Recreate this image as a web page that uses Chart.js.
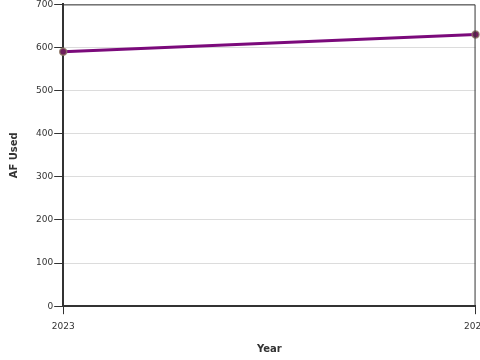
<!DOCTYPE html>
<html>
<head>
<meta charset="utf-8">
<script src="https://cdn.jsdelivr.net/npm/chart.js@4.4.0/dist/chart.umd.min.js"></script>
<style>
  html, body { margin: 0; padding: 0; background: #fff; overflow: hidden; }
  #wrap { width: 494px; height: 362px; margin-top: -2px; }
</style>
</head>
<body>
<div id="wrap"><canvas id="c" width="494" height="362"></canvas></div>
<script>
const years = ['2023', '2024'];
const afUsed = [590, 630];
const yTicks = [0, 100, 200, 300, 400, 500, 600, 700];

Chart.defaults.font.family = '"DejaVu Sans", sans-serif';
Chart.defaults.color = '#333';

// thin frame round the plot area
const frame = {
  id: 'frame',
  afterDraw(chart) {
    const { ctx, chartArea: a } = chart;
    ctx.save();
    ctx.strokeStyle = '#333';
    ctx.lineWidth = 1;
    ctx.beginPath();
    ctx.moveTo(a.left, a.top + 0.5);
    ctx.lineTo(a.right - 0.5, a.top + 0.5);
    ctx.lineTo(a.right - 0.5, a.bottom);
    ctx.stroke();
    ctx.restore();
  }
};

new Chart(document.getElementById('c'), {
  type: 'line',
  data: {
    labels: years,
    datasets: [{
      label: 'AF Used',
      data: afUsed,
      borderColor: '#7b0a7b',
      borderWidth: 3,
      pointRadius: 3.5,
      pointBackgroundColor: '#6e1e5c',
      pointBorderColor: 'rgba(140,120,100,0.8)',
      pointBorderWidth: 1.5,
      tension: 0
    }]
  },
  options: {
    responsive: false,
    animation: false,
    layout: { padding: { top: 0, left: 4, bottom: 1 } },
    plugins: { legend: { display: false }, tooltip: { enabled: false } },
    scales: {
      x: {
        offset: false,
        border: { color: '#333', width: 2 },
        grid: { drawOnChartArea: false, tickColor: '#333', tickLength: 8 },
        ticks: { font: { size: 9 }, maxRotation: 0, padding: 7 },
        title: { display: true, text: 'Year', font: { size: 10, weight: 'bold' }, padding: { top: 4 } }
      },
      y: {
        min: 0, max: 700,
        afterBuildTicks(s) { s.ticks = yTicks.map(v => ({ value: v })); },
        border: { color: '#333', width: 2 },
        grid: { color: '#dcdcdc', tickColor: '#333', tickLength: 9 },
        ticks: { font: { size: 9 }, padding: 1 },
        title: { display: true, text: 'AF Used', font: { size: 10, weight: 'bold' }, padding: { bottom: 15 } }
      }
    }
  },
  plugins: [frame]
});
</script>
</body>
</html>
